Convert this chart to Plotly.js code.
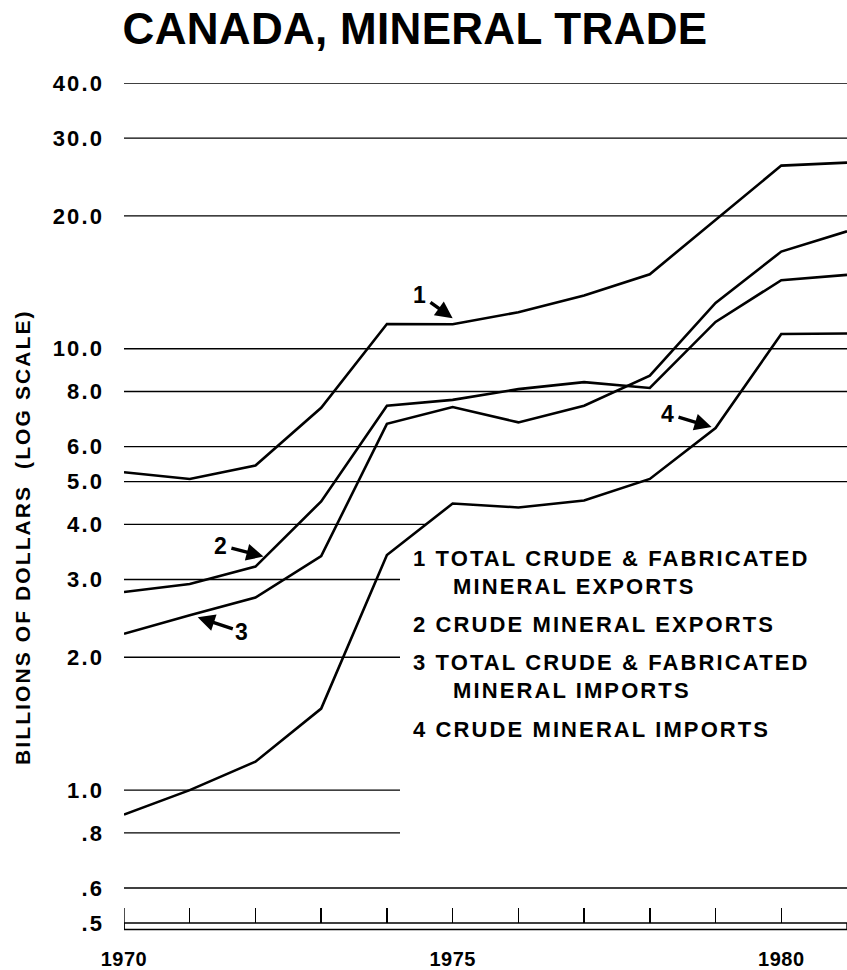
<!DOCTYPE html>
<html>
<head>
<meta charset="utf-8">
<script src="https://cdn.plot.ly/plotly-3.0.1.min.js"></script>
<style>
html,body{margin:0;padding:0;background:#fff;}
text{letter-spacing:2.1px;}
.xtick text{letter-spacing:0.5px;}
.gtitle{letter-spacing:0.3px;}
</style>
</head>
<body>
<div id="chart" style="width:847px;height:970px;"></div>
<script>
// ---- data (billions of dollars) ----
const years = [1970,1971,1972,1973,1974,1975,1976,1977,1978,1979,1980,1981];
const totalExports = [5.25,5.07,5.44,7.35,11.38,11.36,12.1,13.2,14.75,19.6,26.0,26.4];
const crudeExports = [2.81,2.93,3.21,4.51,7.43,7.66,8.10,8.40,8.15,11.5,14.3,14.7];
const totalImports = [2.26,2.49,2.73,3.39,6.76,7.38,6.81,7.43,8.69,12.7,16.6,18.45];
const crudeImports = [0.88,1.0,1.16,1.53,3.41,4.46,4.37,4.53,5.07,6.61,10.8,10.83];
const seriesNames = ["TOTAL CRUDE & FABRICATED MINERAL EXPORTS","CRUDE MINERAL EXPORTS","TOTAL CRUDE & FABRICATED MINERAL IMPORTS","CRUDE MINERAL IMPORTS"];
const legendLines = [["1 TOTAL CRUDE & FABRICATED","MINERAL EXPORTS"],["2 CRUDE MINERAL EXPORTS"],["3 TOTAL CRUDE & FABRICATED","MINERAL IMPORTS"],["4 CRUDE MINERAL IMPORTS"]];
const yTickVals = [0.5,0.6,0.8,1,2,3,4,5,6,8,10,20,30,40];
const yTickText = [".5",".6",".8","1.0","2.0","3.0","4.0","5.0","6.0","8.0","10.0","20.0","30.0","40.0"];
const xTickVals = [1970,1971,1972,1973,1974,1975,1976,1977,1978,1979,1980];
const xTickText = ["1970","","","","","1975","","","","","1980"];
const titleText = "CANADA, MINERAL TRADE";
const yTitleText = "BILLIONS OF DOLLARS\u00a0\u00a0(LOG SCALE)";

// ---- layout geometry ----
const W=847, H=970, L=124, R=0, T=83, B=47;
const PW=W-L-R, PH=H-T-B;
const pxX = p => (p-L)/PW;
const pxY = p => (T+PH-p)/PH;
const xAtPx = p => 1970 + (p-L)*11/PW;
const FONT = '"Liberation Sans", Arial, sans-serif';

const traces = [];
// gridlines (drawn as line traces on the log axis)
yTickVals.forEach(v => {
  if (v === 0.5) return;
  let xEnd = 1981;
  if ([0.8,1,2,3].includes(v)) xEnd = xAtPx(400);
  if (v === 4) xEnd = xAtPx(427);
  traces.push({x:[1970,xEnd], y:[v,v], mode:'lines', line:{color:'#000',width:1.4},
    hoverinfo:'skip', showlegend:false});
});
const allSeries = [totalExports, crudeExports, totalImports, crudeImports];
allSeries.forEach((s,i) => {
  traces.push({x:years, y:s, name:seriesNames[i], mode:'lines',
    line:{color:'#000',width:2.6}, showlegend:false});
});

const annFont = {family:FONT, size:22, color:'#000', weight:'bold'};
const annotations = [];
// legend text
const legendY = [[558.5,586.5],[624],[662.5,690.5],[729]];
legendLines.forEach((lines,i) => {
  lines.forEach((t,j) => {
    annotations.push({xref:'paper', yref:'paper', x:pxX(j===0?411:451), y:pxY(legendY[i][j]),
      xanchor:'left', yanchor:'middle', text:t, showarrow:false, font:annFont});
  });
});
// y axis title
annotations.push({xref:'paper', yref:'paper', x:pxX(22), y:pxY(537), xanchor:'center', yanchor:'middle',
  text:yTitleText, textangle:-90, showarrow:false, font:{family:FONT,size:21,color:'#000',weight:'bold'}});
// numbered arrows pointing at the series
const arrowSpecs = [
  {s:0, i:5, xs:0, ys:6, ax:-32, ay:-23, t:'1'},
  {s:1, i:2, xs:8, ys:10, ax:-42, ay:-11, t:'2'},
  {s:2, i:1, xs:8, ys:-2, ax:45, ay:15, t:'3'},
  {s:3, i:9, xs:-4, ys:1, ax:-43, ay:-13, t:'4'}
];
arrowSpecs.forEach(a => {
  annotations.push({x:years[a.i], y:Math.log10(allSeries[a.s][a.i]), xref:'x', yref:'y',
    xshift:a.xs, yshift:a.ys, ax:a.ax, ay:a.ay, text:a.t, showarrow:true,
    arrowhead:2, arrowsize:1.0, arrowwidth:3.4, arrowcolor:'#000', standoff:0, startstandoff:1,
    font:{family:FONT,size:23,color:'#000',weight:'bold'}});
});

const shapes = [
  {type:'rect', xref:'x', yref:'paper', x0:1970, x1:1981, y0:0, y1:-6.5/PH,
   line:{color:'#000',width:1.4}, fillcolor:'rgba(0,0,0,0)'},
  {type:'line', xref:'x', yref:'paper', x0:1970, x1:1970, y0:-6.5/PH, y1:15/PH,
   line:{color:'#000',width:1.4}}
];

const layout = {
  width:W, height:H, margin:{l:L,r:R,t:T,b:B},
  paper_bgcolor:'#fff', plot_bgcolor:'#fff', showlegend:false,
  title:{text:titleText, x:415/W, xref:'container', xanchor:'center', y:1-29/H, yref:'container', yanchor:'middle',
    font:{family:FONT, size:44, color:'#000', weight:'bold'}},
  xaxis:{type:'linear', range:[1970,1981], showgrid:false, zeroline:false, showline:false,
    tickmode:'array', tickvals:xTickVals, ticktext:xTickText, ticks:'inside', ticklen:15, tickwidth:1.4,
    tickcolor:'#000', ticklabelstandoff:22, tickfont:{family:FONT,size:20,color:'#000',weight:'bold'}, fixedrange:true},
  yaxis:{type:'log', range:[Math.log10(0.5), Math.log10(40)], showgrid:false, zeroline:false, showline:false,
    tickmode:'array', tickvals:yTickVals, ticktext:yTickText, ticks:'', ticklabelstandoff:19,
    tickfont:{family:FONT,size:22,color:'#000',weight:'bold'}, fixedrange:true},
  annotations:annotations, shapes:shapes
};
Plotly.newPlot('chart', traces, layout, {staticPlot:true, displayModeBar:false});
</script>
</body>
</html>
